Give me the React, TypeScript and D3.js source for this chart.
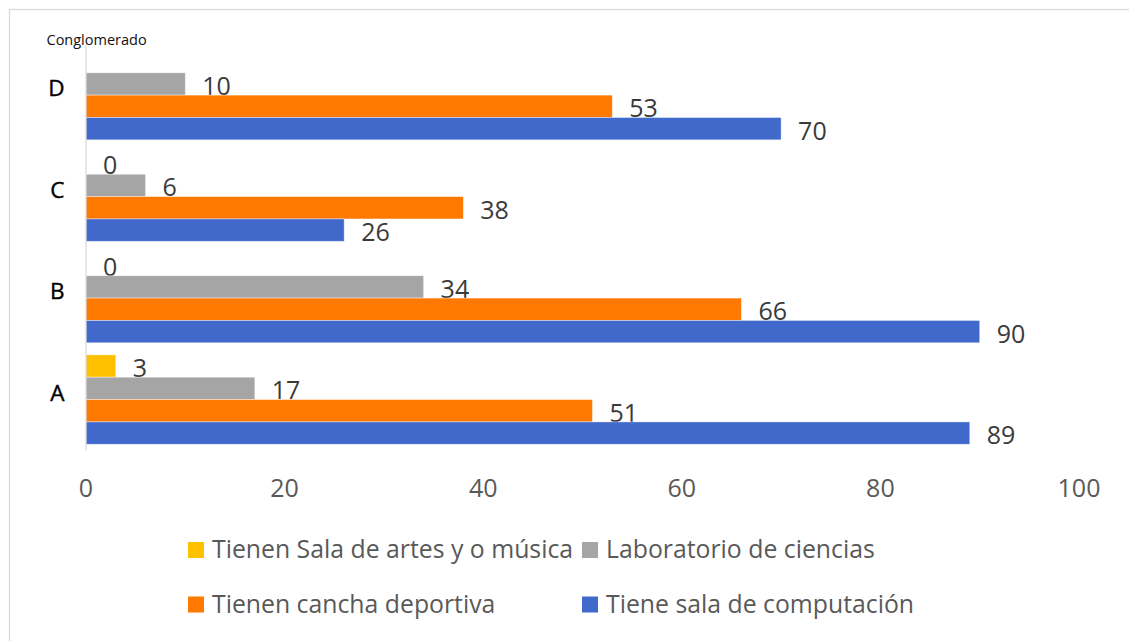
import React from "react";
import * as d3 from "d3";

const categories = ["D", "C", "B", "A"];
const seriesNames = [
  "Tienen Sala de artes y o música",
  "Laboratorio de ciencias",
  "Tienen cancha deportiva",
  "Tiene sala de computación",
];
// values per category in order D, C, B, A
const artes: (number | null)[] = [null, 0, 0, 3];
const laboratorio = [10, 6, 34, 17];
const cancha = [53, 38, 66, 51];
const computacion = [70, 26, 90, 89];
const xTicks = [0, 20, 40, 60, 80, 100];
const colors = ["#FFC000", "#A5A5A5", "#FF7800", "#4169CB"];

const seriesValues = [artes, laboratorio, cancha, computacion];

const W = 1129;
const H = 641;
const FONT = "'Open Sans', 'DejaVu Sans', sans-serif";

export default function App() {
  const x = d3.scaleLinear().domain([0, 100]).range([86, 1079]);
  const y = d3
    .scaleBand<string>()
    .domain(categories)
    .range([44.4, 450.3])
    .paddingInner(0.119)
    .paddingOuter(0.0595);
  const inner = d3
    .scaleBand<string>()
    .domain(seriesNames)
    .range([0, y.bandwidth()]);
  const bh = inner.bandwidth();

  const legendPos = [
    { sx: 188, tx: 212, y: 542 },
    { sx: 582, tx: 606, y: 542 },
    { sx: 188, tx: 212, y: 596.5 },
    { sx: 582, tx: 606, y: 596.5 },
  ];

  return (
    <div style={{ position: "absolute", left: 0, top: 0 }}>
      <svg width={W} height={H} style={{ display: "block", background: "#fff" }}>
        <rect x={0} y={0} width={W} height={H} fill="#fff" />
        {/* frame */}
        <rect x={9.5} y={9.5} width={W + 20} height={H + 20} fill="none" stroke="#d9d9d9" strokeWidth={1.2} />

        <text x={46.5} y={44.5} fontFamily={FONT} fontSize={14.5} fill="#111" fontWeight={500}>
          Conglomerado
        </text>

        {/* bars */}
        {categories.map((c, ci) => (
          <g key={c}>
            {seriesNames.map((s, si) => {
              const v = seriesValues[si][ci];
              if (v === null || v === undefined) return null;
              const y0 = (y(c) as number) + (inner(s) as number);
              return (
                <g key={s}>
                  {v > 0 && (
                    <rect
                      x={x(0)}
                      y={y0}
                      width={x(v) - x(0)}
                      height={bh}
                      fill={colors[si]}
                      stroke="#ffffff"
                      strokeOpacity={0.5}
                      strokeWidth={0.8}
                    />
                  )}
                  <text
                    x={x(v) + 17}
                    y={y0 + bh / 2 + 11}
                    fontFamily={FONT}
                    fontSize={25}
                    fill="#3a3a3a"
                  >
                    {v}
                  </text>
                </g>
              );
            })}
            <text
              x={64.5}
              y={(y(c) as number) + y.bandwidth() / 2 + 1}
              textAnchor="end"
              fontFamily={FONT}
              fontSize={22.5}
              fill="#000"
              stroke="#000"
              strokeWidth={0.4}
            >
              {c}
            </text>
          </g>
        ))}

        {/* category axis line */}
        <line x1={x(0)} x2={x(0)} y1={44.4} y2={450.3} stroke="#d9d9d9" strokeWidth={1.2} />

        {/* x tick labels */}
        {xTicks.map((t) => (
          <text
            key={t}
            x={x(t)}
            y={497}
            textAnchor="middle"
            fontFamily={FONT}
            fontSize={25}
            fill="#595959"
          >
            {t}
          </text>
        ))}

        {/* legend */}
        {seriesNames.map((s, i) => (
          <g key={s}>
            <rect x={legendPos[i].sx} y={legendPos[i].y} width={16} height={16} fill={colors[i]} />
            <text
              x={legendPos[i].tx}
              y={legendPos[i].y + 16}
              fontFamily={FONT}
              fontSize={24.8}
              fill="#595959"
            >
              {s}
            </text>
          </g>
        ))}
      </svg>
    </div>
  );
}
